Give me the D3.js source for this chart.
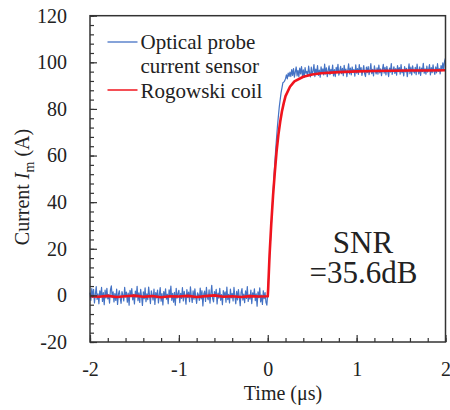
<!DOCTYPE html>
<html><head><meta charset="utf-8">
<script src="https://cdn.jsdelivr.net/npm/d3@7"></script>
<style>
body{margin:0;background:#fff;}
</style></head>
<body><svg id="chart" width="450" height="410"></svg>
<script>
// ---- data ----
const xTicks = [-2, -1, 0, 1, 2];
const yTicks = [-20, 0, 20, 40, 60, 80, 100, 120];
const blueStart = -2, blueStep = 0.01; // oscilloscope sample timing (µs)
const blueBaseline = [
 1.2,-2.1,2.9,-0.9,2.6,-3.2,0.4,3.8,-1.7,0.7,-3.6,1.9,-0.4,3.4,-2.6,1.2,-4.0,2.3,-1.1,3.0,
 -1.5,0.3,-3.3,2.4,4.1,-1.0,1.5,-2.8,0.8,-2.2,2.7,-3.9,0.5,2.0,-1.2,-3.4,1.6,0.1,-2.4,3.5,
 -0.7,1.4,-2.9,1.0,-4.2,2.2,-0.3,2.9,-1.9,0.4,-3.7,1.8,-0.8,3.9,-2.3,1.1,-3.0,2.6,-0.5,-4.3,
 1.5,-1.4,3.2,-2.7,0.7,-1.8,3.6,-0.1,-3.5,1.9,0.0,-2.0,2.7,-3.9,1.2,-1.1,2.3,-3.2,0.3,3.3,
 -2.5,0.8,-4.1,1.6,-0.9,2.8,-1.6,0.5,-3.6,2.4,-0.4,4.0,-2.1,0.9,-2.9,1.3,-4.2,3.0,-1.2,0.6,
 2.2,-3.1,0.9,-1.3,3.3,-2.4,1.7,-0.6,-3.8,2.5,-1.0,1.4,-2.7,3.7,-0.2,-3.0,1.9,-1.6,2.8,-0.8,
 -3.4,1.1,0.2,-2.2,3.1,-1.5,2.0,-4.5,0.6,1.8,-2.6,3.5,-0.9,-1.9,2.4,-3.3,0.8,4.3,-1.4,-2.8,
 1.6,-0.5,2.6,-3.7,1.0,-1.2,3.0,-2.1,0.3,-4.0,2.1,-0.7,1.5,-2.9,3.6,-1.8,0.4,-3.2,2.7,-1.1,
 0.9,-2.4,3.4,-0.3,-3.6,1.7,-1.9,2.5,-0.8,-4.4,1.3,2.9,-2.0,0.6,-3.1,1.9,-1.3,3.8,-2.6,0.2,
 -1.6,2.3,-3.5,1.1,-0.4,2.8,-2.3,0.7,-4.6,1.5,-1.0,3.2,-2.8,0.1,-3.9,2.0,-1.4,1.2,-3.0,-4.2
];
const blueRise = [1,8,16,23,30,37,44,51,57,63,68,73,77,81,84,87,89,91.2,91.5,92.0,93,94.6,92.9,95.4,94.0];
const bluePlateau = [
 95.8,93.9,96.9,94.4,97.3,93.6,95.9,98.0,94.2,96.6,93.8,97.5,95.0,98.2,94.1,96.8,93.5,97.7,95.3,96.1,
 94.0,98.4,95.6,93.7,97.9,94.8,96.3,99.0,93.9,97.1,95.2,98.6,94.4,96.7,93.6,98.1,95.5,97.2,94.6,99.2,
 95.0,97.6,93.8,96.4,98.5,94.7,97.0,95.3,98.8,94.2,96.9,93.9,97.8,95.7,99.1,94.5,96.2,98.3,95.1,97.4,
 94.3,98.7,95.9,97.1,93.8,96.6,99.3,95.0,97.5,94.6,98.0,95.8,96.9,94.1,98.9,95.4,97.3,94.8,99.0,96.0,
 97.7,94.4,96.5,98.6,95.2,93.9,97.9,95.6,98.2,94.7,96.8,99.4,95.1,97.0,94.2,98.5,96.3,95.0,97.6,94.9,
 98.8,95.5,97.2,94.3,96.9,99.1,95.3,97.8,94.6,98.3,96.1,93.9,97.5,95.8,99.5,94.8,96.6,98.1,95.2,97.3,
 94.5,98.6,96.0,97.7,94.9,99.0,95.6,96.8,94.2,98.2,95.9,97.4,93.8,96.7,99.3,95.1,97.9,94.6,98.5,96.2,
 95.4,97.8,94.7,99.2,96.4,95.0,98.1,94.4,97.5,96.0,99.6,95.3,97.2,94.9,98.4,95.8,96.9,99.0,94.6,97.7,
 95.6,98.9,96.3,94.8,98.0,95.5,99.4,96.1,97.3,95.0,98.6,96.4,99.8,97.0,100.6,101.8
];
const redTimes = [-2,-1.9,-1.8,-1.7,-1.6,-1.5,-1.4,-1.3,-1.2,-1.1,-1.0,-0.9,-0.8,-0.7,-0.6,-0.5,-0.4,-0.3,-0.2,-0.1,0,
  0.005,0.02,0.04,0.06,0.08,0.10,0.12,0.14,0.16,0.18,0.20,0.25,0.30,0.40,0.50,0.60,0.80,1.0,1.2,1.4,1.6,1.8,2.0];
const redValues = [-0.3,-0.6,-0.2,-0.7,-0.4,-0.1,-0.6,-0.3,-0.8,-0.4,-0.5,-0.2,-0.7,-0.3,0.0,-0.6,-0.4,-0.7,-0.3,-0.5,-0.4,
  3,17,31,43,53,62,69,74.5,79,82.5,85.5,89.5,91.8,93.8,94.8,95.3,95.8,96.1,96.3,96.4,96.5,96.5,96.6];
const seriesNames = ["Optical probe", "current sensor", "Rogowski coil"];
const snrText = ["SNR", "=35.6dB"];

// ---- chart ----
const svg = d3.select("#chart");
const L = 90, R = 445.5, T = 15.7, B = 342;
const x = d3.scaleLinear().domain([-2, 2]).range([L, R]);
const y = d3.scaleLinear().domain([-20, 120]).range([B, T]);
const axisColor = "#333";
const fs = 20;
const FF = "'Liberation Serif', 'Times New Roman', Tinos, 'DejaVu Serif', serif";

const blueValues = blueBaseline.concat(blueRise, bluePlateau);
const blueData = blueValues.map((v, i) => [blueStart + i * blueStep, v]);
const redData = redTimes.map((t, i) => [t, redValues[i]]);

const line = d3.line().x(d => x(d[0])).y(d => y(d[1]));

svg.append("path").datum(blueData).attr("d", line)
  .attr("fill", "none").attr("stroke", "#4472c4").attr("stroke-width", 1.2).attr("stroke-linejoin", "round");
svg.append("path").datum(redData).attr("d", line)
  .attr("fill", "none").attr("stroke", "#f0141e").attr("stroke-width", 2.6).attr("stroke-linejoin", "round");

// minor ticks
const yMinor = d3.range(-20, 120.01, 4);
const xMinor = d3.range(-2, 2.001, 0.2);
svg.append("g").attr("transform", `translate(${L},0)`)
  .call(d3.axisLeft(y).tickValues(yMinor).tickSize(-4).tickFormat(""))
  .call(g => g.select(".domain").remove())
  .call(g => g.selectAll("line").attr("stroke", axisColor).attr("stroke-width", 1.2));
svg.append("g").attr("transform", `translate(0,${B})`)
  .call(d3.axisBottom(x).tickValues(xMinor).tickSize(-4).tickFormat(""))
  .call(g => g.select(".domain").remove())
  .call(g => g.selectAll("line").attr("stroke", axisColor).attr("stroke-width", 1.2));

// major axes
svg.append("g").attr("transform", `translate(${L},0)`)
  .call(d3.axisLeft(y).tickValues(yTicks).tickSize(-7).tickPadding(23).tickFormat(d => String(d)))
  .attr("font-family", null)
  .call(g => g.select(".domain").remove())
  .call(g => g.selectAll("line").attr("stroke", axisColor).attr("stroke-width", 1.2))
  .call(g => g.selectAll("text").attr("fill", "#222").style("font-family", FF).style("font-size", fs + "px"));
svg.append("g").attr("transform", `translate(0,${B})`)
  .call(d3.axisBottom(x).tickValues(xTicks).tickSize(-7).tickPadding(20).tickFormat(d => String(d)))
  .attr("font-family", null)
  .call(g => g.select(".domain").remove())
  .call(g => g.selectAll("line").attr("stroke", axisColor).attr("stroke-width", 1.2))
  .call(g => g.selectAll("text").attr("fill", "#222").style("font-family", FF).style("font-size", fs + "px"));

// frame
svg.append("rect").attr("x", L).attr("y", T).attr("width", R - L).attr("height", B - T)
  .attr("fill", "none").attr("stroke", axisColor).attr("stroke-width", 1.5);

// axis titles
svg.append("text").attr("x", 283).attr("y", 400).attr("text-anchor", "middle").style("font-family", FF)
  .style("font-size", fs + "px").attr("fill", "#222").text("Time (μs)");
const yl = svg.append("text").attr("transform", "translate(22,187) rotate(-90)").style("font-family", FF)
  .attr("text-anchor", "middle").attr("dy", "0.35em").style("font-size", fs + "px").attr("fill", "#222");
yl.append("tspan").text("Current ");
yl.append("tspan").attr("font-style", "italic").text("I");
yl.append("tspan").style("font-size", "14px").attr("dy", 5).text("m");
yl.append("tspan").attr("dy", -5).text(" (A)");

// legend
svg.append("line").attr("x1", 107.5).attr("x2", 137.5).attr("y1", 42).attr("y2", 42)
  .attr("stroke", "#4472c4").attr("stroke-width", 1.3);
svg.append("line").attr("x1", 107.5).attr("x2", 137.5).attr("y1", 90).attr("y2", 90)
  .attr("stroke", "#f0141e").attr("stroke-width", 1.5);
const legY = [48.5, 73, 97.5];
seriesNames.forEach((s, i) => {
  svg.append("text").attr("x", 140.5).attr("y", legY[i]).style("font-size", "21px").style("font-family", FF)
    .attr("fill", "#222").text(s);
});

// SNR annotation (one text block, two lines)
const snr = svg.append("text").attr("text-anchor", "middle").style("font-family", FF)
  .style("font-size", "31px").attr("fill", "#222");
snr.append("tspan").attr("x", 363).attr("y", 253).text(snrText[0]);
snr.append("tspan").attr("x", 363.5).attr("y", 283).text(snrText[1]);
</script></body></html>
